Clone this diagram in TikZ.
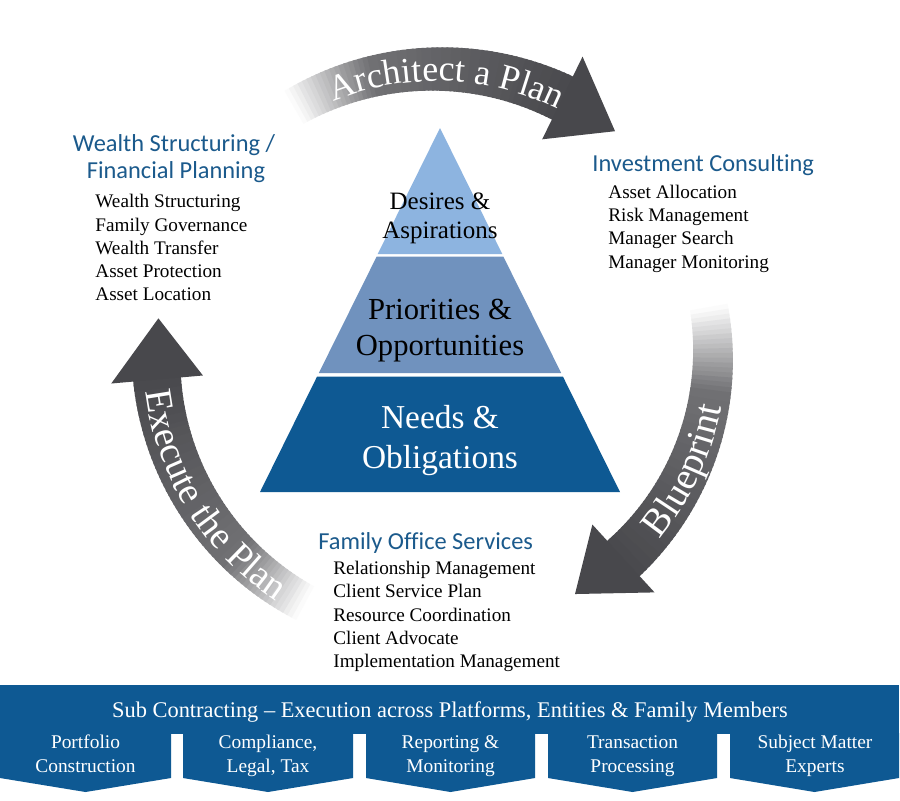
\documentclass[tikz,border=0pt]{standalone}
\usepackage{fontspec}
\setmainfont{Liberation Serif}
\newfontfamily\headfont[Ligatures=NoCommon]{Carlito}
\usetikzlibrary{decorations.text}
\definecolor{bandblue}{RGB}{14,89,147}
\definecolor{midblue}{RGB}{112,146,190}
\definecolor{lightblue}{RGB}{141,180,224}
\definecolor{headblue}{RGB}{27,90,140}
\definecolor{arrowdark}{RGB}{72,72,76}
\newcommand\cx{437}
\newcommand\cy{355}
% #1 tail angle, #2 head angle, #3 mid radius
\newcommand\bandarrow[3]{%
  \foreach \i in {0,...,59}{%
    \pgfmathsetmacro\anga{#1+(#2-#1)*\i/60}%
    \pgfmathsetmacro\angb{#1+(#2-#1)*(\i+1.4)/60}%
    \pgfmathsetmacro\ffrac{(\i+0.5)/60}%
    \pgfmathtruncatemacro\pp{\ffrac<0.3 ? 78*\ffrac/0.3 : 78+22*(\ffrac-0.3)/0.7}%
    \pgfmathsetmacro\hw{19+5*\ffrac}%
    \fill[arrowdark!\pp!white]
      ({\cx+(#3-\hw)*cos(\anga)},{\cy+(#3-\hw)*sin(\anga)}) --
      ({\cx+(#3+\hw)*cos(\anga)},{\cy+(#3+\hw)*sin(\anga)}) --
      ({\cx+(#3+\hw)*cos(\angb)},{\cy+(#3+\hw)*sin(\angb)}) --
      ({\cx+(#3-\hw)*cos(\angb)},{\cy+(#3-\hw)*sin(\angb)}) -- cycle;
  }%
  \fill[arrowdark]
    ({\cx+(#3-46)*cos(#2)},{\cy+(#3-46)*sin(#2)}) --
    ({\cx+(#3+46)*cos(#2)},{\cy+(#3+46)*sin(#2)}) --
    ({\cx+(#3)*cos(#2+12.5)},{\cy+(#3)*sin(#2+12.5)}) -- cycle;
}
\begin{document}
\begin{tikzpicture}[x=0.5pt,y=-0.5pt,
  headtxt/.style={font=\headfont\fontsize{12.2}{13}\selectfont, text=headblue, inner sep=0},
  item/.style={font=\fontsize{9.6}{11.7}\selectfont, inner sep=0, anchor=base west},
  pyrtxt/.style={inner sep=0, anchor=base},
  boxtxt/.style={text=white, font=\fontsize{9.7}{12}\selectfont, inner sep=0, anchor=base},
  arrowtext/.style={decorate, decoration={text along path, text align=center, text color=white, text={#1}}}
]
\useasboundingbox (0,0) rectangle (900,800);
\fill[white] (0,0) rectangle (900,800);

% curved arrows
\bandarrow{-120}{-64}{286}
\bandarrow{-10}{47.5}{276}
\bandarrow{118}{175}{281}

\path[arrowtext={|\fontsize{18}{20}\selectfont|Architect a Plan}]
  plot[domain=0:1, samples=90] ({\cx+274*cos(-120+64*\x)},{\cy+274*sin(-120+64*\x)});
\path[arrowtext={|\fontsize{19}{21}\selectfont|Execute the Plan}]
  plot[domain=0:1, samples=90] ({\cx+294*cos(182-68*\x)},{\cy+294*sin(182-68*\x)});
\path[arrowtext={|\fontsize{19.5}{21}\selectfont|Blueprint}]
  plot[domain=0:1, samples=90] ({\cx+289*cos(60-70*\x)},{\cy+289*sin(60-70*\x)});

% pyramid
\fill[lightblue] (440,128) -- (502.3,254) -- (377.7,254) -- cycle;
\fill[midblue] (376.7,256.5) -- (503.3,256.5) -- (561.2,373) -- (318.8,373) -- cycle;
\fill[bandblue] (317.1,376.5) -- (562.9,376.5) -- (620,492) -- (260,492) -- cycle;

\node[pyrtxt, font=\fontsize{12.5}{15}\selectfont] (des1) at (440,209.3) {Desires \&};
\node[pyrtxt, font=\fontsize{12.5}{15}\selectfont] (des2) at (440,238) {Aspirations};
\node[pyrtxt, font=\fontsize{15.3}{18}\selectfont] (pri1) at (440,319) {Priorities \&};
\node[pyrtxt, font=\fontsize{15.3}{18}\selectfont] (pri2) at (440,355) {Opportunities};
\node[pyrtxt, text=white, font=\fontsize{16.7}{20}\selectfont] (ned1) at (440,428) {Needs \&};
\node[pyrtxt, text=white, font=\fontsize{16.7}{20}\selectfont] (ned2) at (440,468) {Obligations};

% Wealth structuring
\node[headtxt, anchor=base] (wh1) at (174,151.7) {Wealth Structuring /};
\node[headtxt, anchor=base] (wh2) at (176,178.3) {Financial Planning};
\foreach \t [count=\k] in {Wealth Structuring, Family Governance, Wealth Transfer, Asset Protection, Asset Location}
  \node[item] (w\k) at (95,{207.7+23.3*(\k-1)}) {\t};

% Investment consulting
\node[headtxt, anchor=base west] (ih) at (592,171) {Investment Consulting};
\foreach \t [count=\k] in {Asset Allocation, Risk Management, Manager Search, Manager Monitoring}
  \node[item] (i\k) at (608,{198.3+23.3*(\k-1)}) {\t};

% Family office
\node[headtxt, anchor=base west] (fh) at (318,549) {Family Office Services};
\foreach \t [count=\k] in {Relationship Management, Client Service Plan, Resource Coordination, Client Advocate, Implementation Management}
  \node[item] (f\k) at (333,{574.3+23.35*(\k-1)}) {\t};

% bottom banner
\fill[bandblue] (0,685) rectangle (899,734);
\foreach \xl/\xr in {0/171, 183/353, 366/535, 548/717, 730/899}
  \fill[bandblue] (\xl,733) -- (\xr,733) -- (\xr,778) -- ({(\xl+\xr)/2},792) -- (\xl,778) -- cycle;
\node[inner sep=0, anchor=base, text=white, font=\fontsize{11.2}{13}\selectfont] (sub) at (450,717) {Sub Contracting – Execution across Platforms, Entities \& Family Members};
\node[boxtxt] (b1a) at (85.5,748) {Portfolio};
\node[boxtxt] (b1b) at (85.5,772) {Construction};
\node[boxtxt] (b2a) at (268,748) {Compliance,};
\node[boxtxt] (b2b) at (268,772) {Legal, Tax};
\node[boxtxt] (b3a) at (450.5,748) {Reporting \&};
\node[boxtxt] (b3b) at (450.5,772) {Monitoring};
\node[boxtxt] (b4a) at (632.5,748) {Transaction};
\node[boxtxt] (b4b) at (632.5,772) {Processing};
\node[boxtxt] (b5a) at (815,748) {Subject Matter};
\node[boxtxt] (b5b) at (815,772) {Experts};
\end{tikzpicture}
\end{document}
